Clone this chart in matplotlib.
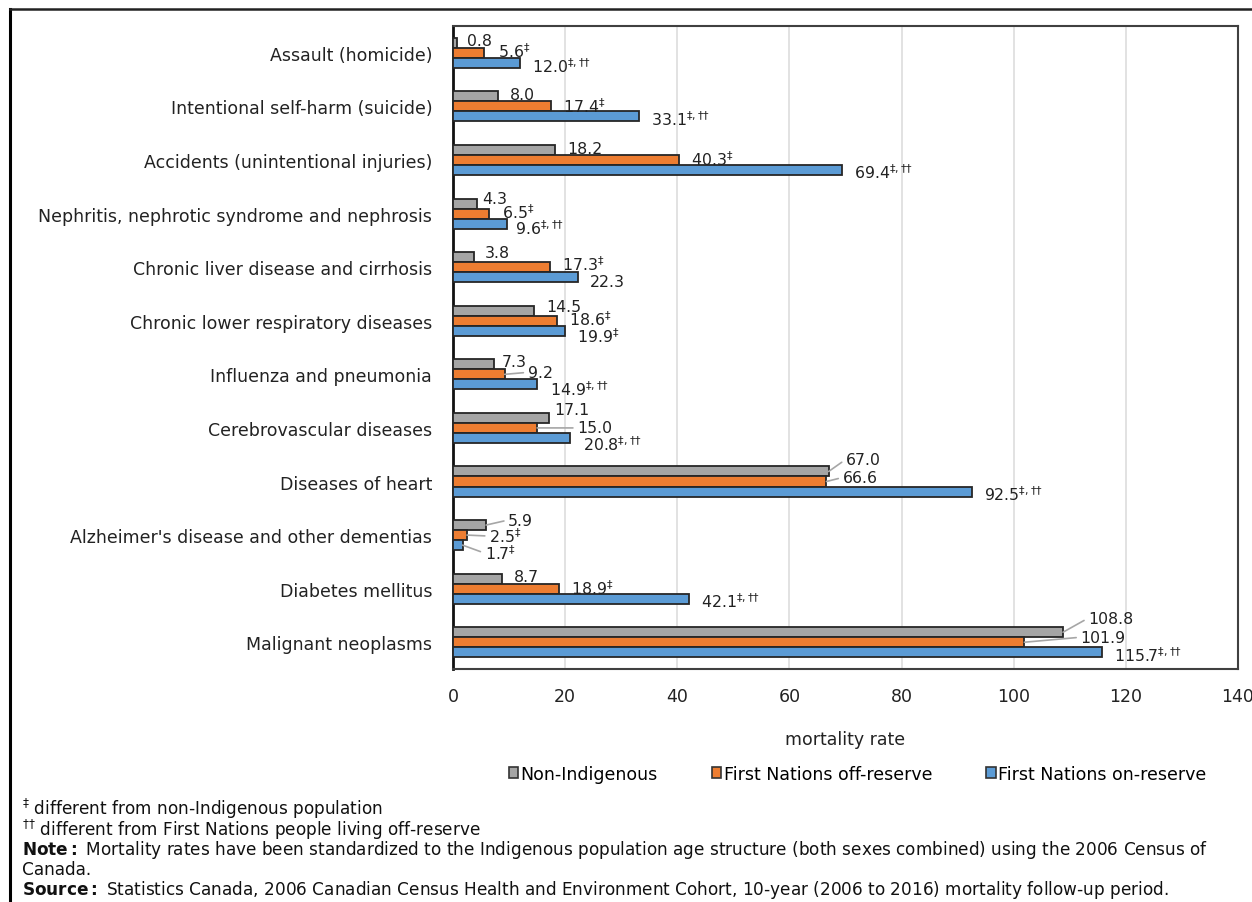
import numpy as np
import matplotlib
matplotlib.use("Agg")
import matplotlib.pyplot as plt
from matplotlib.patches import Patch
from matplotlib.lines import Line2D

causes = [
    "Assault (homicide)",
    "Intentional self-harm (suicide)",
    "Accidents (unintentional injuries)",
    "Nephritis, nephrotic syndrome and nephrosis",
    "Chronic liver disease and cirrhosis",
    "Chronic lower respiratory diseases",
    "Influenza and pneumonia",
    "Cerebrovascular diseases",
    "Diseases of heart",
    "Alzheimer's disease and other dementias",
    "Diabetes mellitus",
    "Malignant neoplasms",
]
series_names = ["Non-Indigenous", "First Nations off-reserve", "First Nations on-reserve"]

non_indigenous = [0.8, 8.0, 18.2, 4.3, 3.8, 14.5, 7.3, 17.1, 67.0, 5.9, 8.7, 108.8]
off_reserve = [5.6, 17.4, 40.3, 6.5, 17.3, 18.6, 9.2, 15.0, 66.6, 2.5, 18.9, 101.9]
on_reserve = [12.0, 33.1, 69.4, 9.6, 22.3, 19.9, 14.9, 20.8, 92.5, 1.7, 42.1, 115.7]

# significance marks: a = different from non-Indigenous, b = also different from off-reserve
non_flags = [""] * 12
off_flags = ["a", "a", "a", "a", "a", "a", "", "", "", "a", "a", ""]
on_flags = ["ab", "ab", "ab", "ab", "", "a", "ab", "ab", "ab", "a", "ab", "ab"]

colors = ["#A5A5A5", "#ED7D31", "#5B9BD5"]

# label placement tweaks (pixels): (series, category) -> (dx, dy, leader line)
default_dy = [2, 1, -2]
label_offsets = {
    (0, 0): (10, 2, False), (0, 3): (5, 5, False), (0, 4): (10, 5, False),
    (0, 5): (12, 4, False),
    (0, 6): (8, 3, False), (0, 7): (5, 8, False), (0, 8): (17, 12, True),
    (0, 9): (22, 5, True), (0, 11): (25, 14, True),
    (1, 0): (14, 2, False), (1, 3): (13, 2, False), (1, 4): (12, 4, False),
    (1, 5): (12, 2, False),
    (1, 6): (23, 2, True), (1, 7): (40, 0, True),
    (1, 8): (16, 4, True), (1, 9): (22, -1, True), (1, 11): (56, 5, True),
    (2, 0): (12, -3, False), (2, 3): (8, -4, False), (2, 4): (12, -4, False),
    (2, 5): (12, -5, False), (2, 6): (13, -4, False),
    (2, 7): (13, -6, False), (2, 9): (22, -8, True),
}

plt.rcParams['font.family'] = ['DejaVu Sans']
plt.rcParams['mathtext.fontset'] = 'dejavusans'
FS = 12.5


def make_label(v, flag):
    txt = f"{v:.1f}"
    if flag == "a":
        txt += "$^{\u2021}$"
    elif flag == "ab":
        txt += "$^{\u2021,\u2020\u2020}$"
    return txt


fig = plt.figure(figsize=(12.52, 9.03), dpi=100)
ax = fig.add_axes([0.3618, 0.258, 0.627, 0.712])

y = np.arange(len(causes))
h = 0.187
all_vals = [non_indigenous, off_reserve, on_reserve]
all_flags = [non_flags, off_flags, on_flags]
for s, (vals, flags) in enumerate(zip(all_vals, all_flags)):
    ypos = y + (s - 1) * h
    ax.barh(ypos, vals, height=h, color=colors[s], edgecolor="#262626",
            linewidth=1.3, zorder=3)
    for i, v in enumerate(vals):
        dx, dy, leader = label_offsets.get((s, i), (12, default_dy[s], False))
        kw = {}
        if leader:
            kw["arrowprops"] = dict(arrowstyle="-", color="#A6A6A6", lw=1.2,
                                    shrinkA=1, shrinkB=0, relpos=(0, 0.5))
        ax.annotate(make_label(v, flags[i]), xy=(v, ypos[i]),
                    xytext=(dx, dy), textcoords="offset pixels",
                    ha="left", va="center", fontsize=11.3, color="#222222",
                    zorder=4, **kw)

ax.set_xlim(0, 140)
ax.set_ylim(len(causes) - 0.5, -0.5)
ax.set_xticks(np.arange(0, 141, 20))
ax.set_yticks(y)
ax.set_yticklabels(causes, fontsize=FS, color="#222222")
ax.tick_params(axis="x", labelsize=FS, length=0, pad=13, labelcolor="#222222")
ax.tick_params(axis="y", length=0, pad=15)
ax.xaxis.grid(True, color="#DDDDDD", lw=1.2, zorder=0)
ax.set_axisbelow(True)
for side in ["top", "right", "bottom"]:
    ax.spines[side].set_color("#404040")
    ax.spines[side].set_linewidth(1.5)
ax.spines["left"].set_color("#111111")
ax.spines["left"].set_linewidth(2)
ax.set_xlabel("mortality rate", fontsize=FS, color="#222222", labelpad=18)

handles = [Patch(facecolor=c, edgecolor="#333333", linewidth=1.2) for c in colors]
fig.legend(handles, series_names, loc="center", bbox_to_anchor=(0.685, 0.142),
           ncol=3, frameon=False, fontsize=FS, handlelength=0.55, handleheight=0.6,
           handletextpad=0.15, columnspacing=3.1)

# outer frame (top and left edges visible)
fig.add_artist(Line2D([0.008, 0.008], [0.0, 0.989], color="black", lw=2.2))
fig.add_artist(Line2D([0.008, 1.0], [0.989, 0.989], color="#222222", lw=1.8))

notes = [
    "$^{\u2021}$ different from non-Indigenous population",
    "$^{\u2020\u2020}$ different from First Nations people living off-reserve",
    r"$\bf{Note:}$ Mortality rates have been standardized to the Indigenous population age structure (both sexes combined) using the 2006 Census of",
    "Canada.",
    r"$\bf{Source:}$ Statistics Canada, 2006 Canadian Census Health and Environment Cohort, 10-year (2006 to 2016) mortality follow-up period.",
]
note_y = [809, 830, 850, 870, 890]
for k, line in enumerate(notes):
    fig.text(0.0175, 1 - note_y[k] / 903, line, fontsize=12.2,
             color="#111111", va="center", ha="left")

fig.savefig("out.png", dpi=100)
